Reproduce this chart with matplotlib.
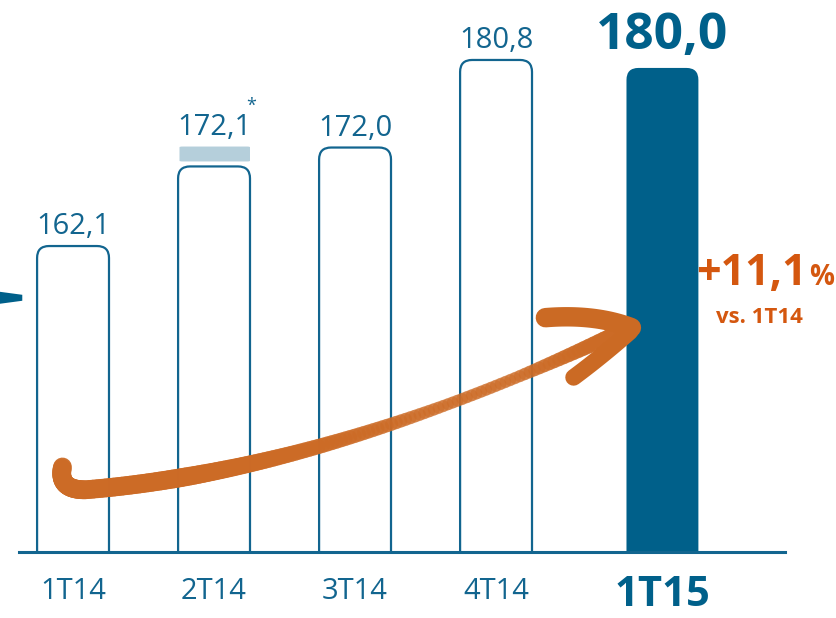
import matplotlib.pyplot as plt
import numpy as np
from matplotlib.patches import FancyBboxPatch
from matplotlib.collections import LineCollection

plt.rcParams['font.family'] = ['Open Sans', 'DejaVu Sans']

# datos
trimestres = ['1T14', '2T14', '3T14', '4T14', '1T15']
valores = [162.1, 170.1, 172.0, 180.8, 180.0]
etiquetas = ['162,1', '172,1', '172,0', '180,8', '180,0']
# perímetro 2T14 (tapa gris)
tapa_2t14 = (170.6, 172.1)
variacion = '+11,1'
base = 131.35

azul = '#12658f'
azul_osc = '#00608a'
naranja = '#d4570f'
trazo = '#cb6a24'

pos = np.array([0, 1, 2, 3, 4.18])
ancho = 0.51

fig = plt.figure(figsize=(8.37, 6.18), dpi=100)
ax = fig.add_axes([0, 66 / 618, 1, 552 / 618])
ax.set_xlim(-0.518, 5.418)
ax.set_ylim(base, base + 552 / 9.95)

asp = (1.2 / 0.085)

for i, (x, v) in enumerate(zip(pos, valores)):
    last = i == len(valores) - 1
    p = FancyBboxPatch((x - ancho / 2, base - 5), ancho, v - base + 5,
                       boxstyle='round,pad=0,rounding_size=0.085',
                       mutation_aspect=asp,
                       facecolor=azul_osc if last else 'white',
                       edgecolor=azul_osc if last else azul,
                       linewidth=0 if last else 1.6, zorder=2)
    ax.add_patch(p)

# tapa 2T14
cap = FancyBboxPatch((pos[1] - ancho / 2 + 0.01, tapa_2t14[0]), ancho - 0.01,
                     tapa_2t14[1] - tapa_2t14[0],
                     boxstyle='round,pad=0,rounding_size=0.02', mutation_aspect=asp / 4,
                     facecolor='#b5cfdb', edgecolor='none', zorder=2)
ax.add_patch(cap)

# etiquetas de valor
tops = [valores[0], tapa_2t14[1], valores[2], valores[3]]
for x, t, lab in zip(pos[:4], tops, etiquetas[:4]):
    ax.annotate(lab, (x, t), xytext=(0, 12), textcoords='offset pixels',
                ha='center', va='baseline', fontsize=21, color=azul)
ax.annotate('*', (pos[1] + 0.225, tapa_2t14[1]), xytext=(0, 36), textcoords='offset pixels',
            ha='left', va='baseline', fontsize=13, color=azul)
ax.annotate(etiquetas[4], (pos[4], valores[4]), xytext=(0, 19), textcoords='offset pixels',
            ha='center', va='baseline', fontsize=37, fontweight='bold', color=azul_osc)

# línea base
ax.axhline(base, xmin=19 / 837, xmax=785 / 837, color=azul, lw=2.2, clip_on=False, zorder=3)

# marca a la izquierda
ax.fill([-0.518, -0.36, -0.36, -0.518], [157.5, 157.2, 156.6, 156.3],
        color=azul_osc, lw=0)

# ejes
ax.set_xticks(pos[:4], trimestres[:4])
ax.set_yticks([])
for s in ax.spines.values():
    s.set_visible(False)
ax.tick_params(length=0, pad=18, labelsize=21, labelcolor=azul)
ax.annotate(trimestres[4], (pos[4], base), xytext=(0, -54), textcoords='offset pixels',
            ha='center', va='baseline', fontsize=30, fontweight='bold', color=azul_osc,
            annotation_clip=False)

# variación
ax.text(5.2, 158.2, variacion, fontsize=31, fontweight='bold', color=naranja,
        ha='right', va='baseline')
ax.text(5.22, 158.2, '%', fontsize=20, fontweight='bold', color=naranja, va='baseline')
ax.text(4.87, 154.4, 'vs. 1T14', fontsize=16, fontweight='bold', color=naranja,
        ha='center', va='baseline')


# trazo tipo pincel
def bez(p0, c, p1, n=80):
    t = np.linspace(0, 1, n)[:, None]
    return (1 - t) ** 2 * np.array(p0) + 2 * (1 - t) * t * np.array(c) + t ** 2 * np.array(p1)


gancho = bez((-0.075, 139.9), (-0.11, 137.6), (0.085, 137.6), 30)
curva = bez((0.085, 137.6), (1.82, 139.6), (3.94, 153.9), 120)
pts = np.vstack([gancho, curva[1:]])
segs = np.stack([pts[:-1], pts[1:]], axis=1)
n = len(segs)
u = np.linspace(0, 1, n)
anchos = 13.5 - 5 * np.clip((u - 0.35) / 0.4, 0, 1) + 3 * np.clip((u - 0.85) / 0.15, 0, 1)
alfas = 0.95 - 0.35 * np.clip((u - 0.4) / 0.3, 0, 1) + 0.35 * np.clip((u - 0.85) / 0.15, 0, 1)
cols = [(0.80, 0.42, 0.15, a) for a in alfas]
lc = LineCollection(segs, linewidths=anchos, colors=cols, capstyle='round', zorder=4)
ax.add_collection(lc)

punta_sup = bez((3.35, 154.9), (3.7, 155.3), (3.96, 153.9), 30)
punta_inf = bez((3.55, 148.9), (3.75, 151.0), (3.95, 153.5), 30)
for p, w in ((punta_sup, 14), (punta_inf, 12)):
    ax.plot(p[:, 0], p[:, 1], color=trazo, lw=w, solid_capstyle='round', zorder=5)

fig.savefig('out.png', dpi=100)
